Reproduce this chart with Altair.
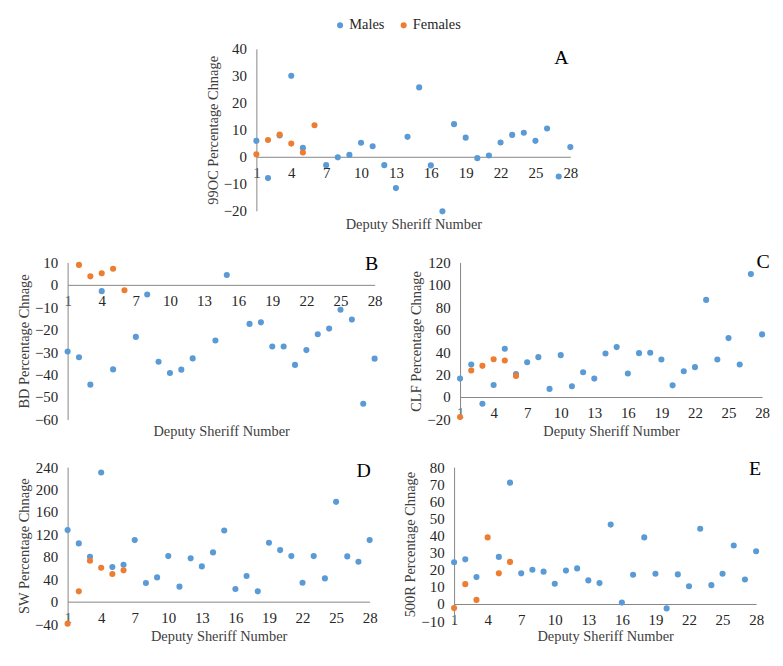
import altair as alt
import pandas as pd

# ---------------- data ----------------
deputy = list(range(1, 29))
female_ids = [1, 2, 3, 4, 5, 6]
x_ticks = [1, 4, 7, 10, 13, 16, 19, 22, 25, 28]
series_names = ["Males", "Females"]
series_colors = ["#5B9BD5", "#ED7D31"]
panel_letters = ["A", "B", "C", "D", "E"]
y_titles = ["99OC Percentage Chnage", "BD Percentage Chnage", "CLF Percentage Chnage",
            "SW Percentage Chnage", "500R Percentage Chnage"]
x_title = "Deputy Sheriff Number"

a_males = [5.9, -7.9, 7.9, 30.0, 3.3, None, -3.1, -0.2, 0.7, 5.2, 3.9, -3.1, -11.6, 7.4,
           25.7, -3.2, -20.2, 12.1, 7.1, -0.5, 0.5, 5.3, 8.1, 8.9, 5.9, 10.5, -7.3, 3.6]
a_females = [0.9, 6.2, 8.2, 4.9, 1.6, 11.7]

b_males = [-29.7, -32.3, -44.5, -2.8, -37.7, None, -23.2, -4.3, -34.3, -39.3, -37.8, -32.8,
           None, -24.8, 4.4, None, -17.4, -16.7, -27.5, -27.5, -35.7, -29.1, -22.0, -19.5,
           -11.1, -15.5, -53.0, -32.9]
b_females = [None, 8.9, 3.8, 5.2, 7.2, -2.4]

c_males = [16.4, 29.0, -6.0, 10.7, 43.0, 20.5, 31.0, 35.5, 7.2, 37.3, 9.6, 22.1, 16.4, 38.8,
           44.5, 20.9, 39.1, 39.4, 33.4, 10.4, 23.0, 26.6, 86.6, 33.4, 52.5, 29.0, 109.6, 55.8]
c_females = [-17.9, 23.6, 27.8, 33.7, 32.5, 18.8]

d_males = [127.6, 103.9, 80.1, 230.3, 61.7, 65.9, 109.8, 33.2, 43.3, 81.3, 26.7, 77.2, 62.9,
           87.8, 127.0, 22.6, 45.7, 18.4, 105.0, 92.0, 81.3, 33.8, 81.3, 41.5, 178.0, 80.7,
           71.2, 109.8]
d_females = [-39.2, 18.4, 73.0, 60.5, 49.3, 55.8]

e_males = [24.4, 26.1, 15.7, None, 27.5, 70.9, 17.9, 20.0, 18.9, 11.8, 19.5, 20.8, 13.8, 12.2,
           46.4, 0.8, 17.1, 38.9, 17.7, -2.6, 17.3, 10.4, 44.0, 11.0, 17.7, 34.2, 14.3, 30.8]
e_females = [-2.4, 11.6, 2.4, 38.9, 17.9, 24.6]

a_ticks = [-20, -10, 0, 10, 20, 30, 40]
b_ticks = [-60, -50, -40, -30, -20, -10, 0, 10]
c_ticks = [-20, 0, 20, 40, 60, 80, 100, 120]
d_ticks = [-40, 0, 40, 80, 120, 160, 200, 240]
e_ticks = [-10, 0, 10, 20, 30, 40, 50, 60, 70, 80]

FONT = "Liberation Serif"


def make_df(males, females):
    rows = []
    for d, v in zip(deputy, males):
        if v is not None:
            rows.append({"Deputy": d, "Value": v, "Sex": "Males", "ord": 0})
    for d, v in zip(female_ids, females):
        if v is not None:
            rows.append({"Deputy": d, "Value": v, "Sex": "Females", "ord": 1})
    return pd.DataFrame(rows)


def panel(males, females, yticks, ytitle, letter, w, h, lx, ly, tgap):
    ymin, ymax = min(yticks), max(yticks)
    off = -h * (0 - ymin) / (ymax - ymin)
    df = make_df(males, females)
    pts = alt.Chart(df).mark_circle(size=38, opacity=1).encode(
        x=alt.X("Deputy:Q",
                scale=alt.Scale(domain=[1, 28], nice=False, zero=False),
                axis=alt.Axis(values=x_ticks, title=x_title, offset=off,
                              titleY=-off + tgap, labelPadding=9, labelFlush=False)),
        y=alt.Y("Value:Q",
                scale=alt.Scale(domain=[ymin, ymax], nice=False, zero=False),
                axis=alt.Axis(values=yticks, title=ytitle, labelPadding=10,
                              titlePadding=3)),
        color=alt.Color("Sex:N",
                        scale=alt.Scale(domain=series_names, range=series_colors),
                        legend=alt.Legend(title=None, orient="none", direction="horizontal",
                                          legendX=267, legendY=-31, symbolType="circle",
                                          symbolSize=38, labelFont=FONT, labelFontSize=14.5,
                                          labelColor="#262626", columnPadding=12,
                                          labelOffset=2, padding=0,
                                          symbolStrokeWidth=0)),
        order=alt.Order("ord:Q"),
    )
    lab = alt.Chart(pd.DataFrame({"t": [letter]})).mark_text(
        font=FONT, fontSize=20, color="#000000", align="center", baseline="middle"
    ).encode(text="t:N", x=alt.value(lx), y=alt.value(ly))
    return alt.layer(pts, lab).properties(width=w, height=h)


A = panel(a_males, a_females, a_ticks, y_titles[0], panel_letters[0], 316, 163, 307, 9, 7)
B = panel(b_males, b_females, b_ticks, y_titles[1], panel_letters[1], 309, 158, 306, 2, 5.5)
C = panel(c_males, c_females, c_ticks, y_titles[2], panel_letters[2], 304, 158, 305, 0, 5.5)
D = panel(d_males, d_females, d_ticks, y_titles[3], panel_letters[3], 304, 158, 298, 4, 5.5)
E = panel(e_males, e_females, e_ticks, y_titles[4], panel_letters[4], 304, 155, 303, 2, 9)

spacer = alt.Chart(pd.DataFrame({"v": [0]})).mark_point(opacity=0).encode(
    x=alt.value(0), y=alt.value(0)).properties(width=138, height=10)

row1 = alt.hconcat(spacer, A, spacing=0)
row2 = alt.hconcat(B, C, spacing=26)
row3 = alt.hconcat(D, E, spacing=25)

chart = alt.vconcat(row1, row2, row3, spacing=21).configure_axis(
    domainColor="#868686", domainWidth=1, ticks=False, grid=False,
    labelFont=FONT, labelFontSize=15, labelColor="#262626",
    titleFont=FONT, titleFontSize=14.5, titleFontWeight="normal", titleColor="#404040",
).configure_view(stroke=None).properties(
    background="white", padding={"left": 8, "top": 8, "right": 5, "bottom": 5})

chart.save("out.html", embed_options={"renderer": "svg", "actions": False})
